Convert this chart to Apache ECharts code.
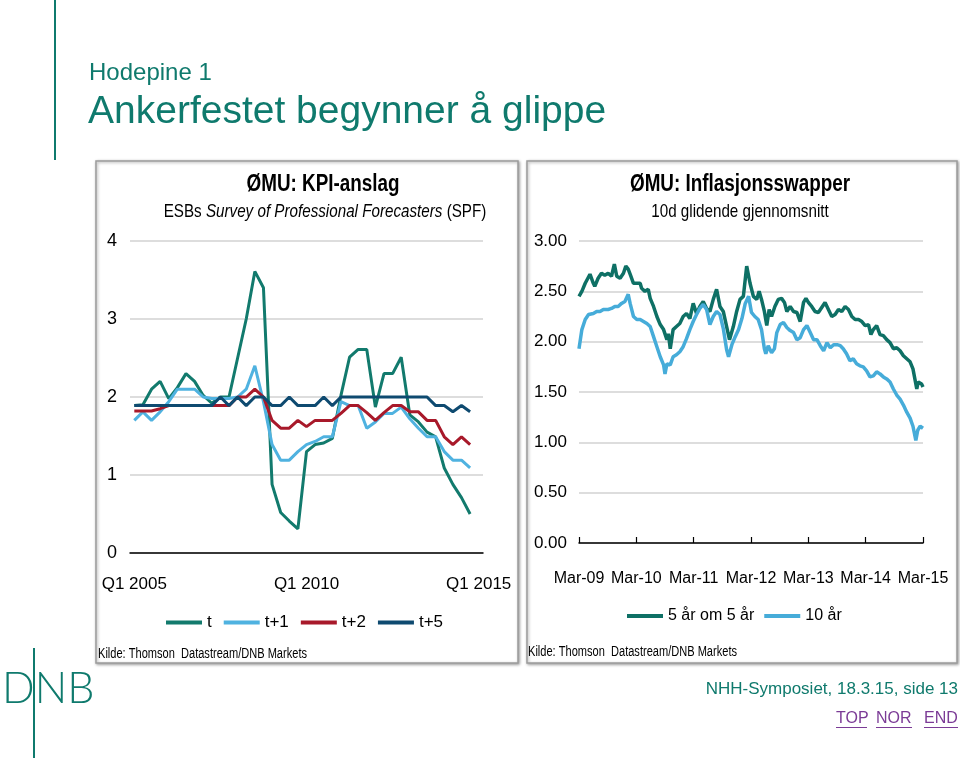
<!DOCTYPE html>
<html>
<head>
<meta charset="utf-8">
<title>Ankerfestet begynner å glippe</title>
<script src="https://cdn.jsdelivr.net/npm/echarts@6/dist/echarts.min.js"></script>
<style>
  html, body { margin: 0; padding: 0; background: #fff; }
  #chart { width: 960px; height: 758px; }
</style>
</head>
<body>
<div id="chart"></div>
<script>
// --- venstre figur: ESB SPF, kvartalsvis 2005-2014 ---
const quarters = [];
for (let y = 2005; y <= 2015; y++) {
  for (let q = 1; q <= 4; q++) {
    if (y === 2015 && q > 1) break;
    quarters.push('Q' + q + ' ' + y);
  }
}
const spfT = [1.89, 1.90, 2.10, 2.20, 1.98, 2.12, 2.30, 2.20, 2.02, 1.92,
  2.00, 2.00, 2.50, 3.00, 3.61, 3.40, 0.88, 0.52, 0.41, 0.31,
  1.30, 1.39, 1.41, 1.47, 2.02, 2.51, 2.61, 2.61, 1.87, 2.30,
  2.30, 2.51, 1.77, 1.68, 1.55, 1.49, 1.09, 0.88, 0.71, 0.50];
const spfT1 = [1.70, 1.81, 1.70, 1.81, 1.94, 2.10, 2.10, 2.10, 2.00, 1.98,
  1.98, 1.98, 2.00, 2.10, 2.40, 1.94, 1.39, 1.19, 1.19, 1.30,
  1.39, 1.43, 1.49, 1.49, 1.94, 1.89, 1.89, 1.60, 1.68, 1.79,
  1.79, 1.87, 1.72, 1.60, 1.49, 1.49, 1.30, 1.19, 1.19, 1.09];
const spfT2 = [1.82, 1.82, 1.82, 1.85, 1.89, 1.89, 1.89, 1.89, 1.89, 1.89,
  1.89, 1.89, 2.00, 2.00, 2.10, 2.00, 1.70, 1.60, 1.60, 1.70,
  1.62, 1.70, 1.70, 1.70, 1.79, 1.89, 1.89, 1.80, 1.70, 1.80,
  1.89, 1.89, 1.81, 1.81, 1.70, 1.70, 1.49, 1.39, 1.49, 1.39];
const spfT5 = [1.89, 1.89, 1.89, 1.89, 1.89, 1.89, 1.89, 1.89, 1.89, 1.89,
  2.00, 1.89, 2.00, 1.89, 2.00, 2.00, 1.89, 1.89, 2.00, 1.89,
  1.89, 1.89, 2.00, 1.89, 2.00, 2.00, 2.00, 2.00, 2.00, 2.00,
  2.00, 2.00, 2.00, 2.00, 2.00, 1.89, 1.89, 1.81, 1.89, 1.81];

// --- høyre figur: inflasjonsswapper, måneder etter mars 2009 ---
const swapTicks = ['Mar-09', 'Mar-10', 'Mar-11', 'Mar-12', 'Mar-13', 'Mar-14', 'Mar-15'];
const months5y5y = [0, 0.6, 1.3, 2.3, 3.0, 3.3, 4.0, 4.7, 5.4, 6.1, 6.8, 7.4, 7.9, 8.6, 9.3,
  9.8, 10.3, 10.7, 11.4, 12.1, 12.8, 13.1, 13.8, 14.5, 14.9, 15.6, 16.3, 17.0, 17.7,
  18.4, 18.7, 19.1, 19.7, 20.4, 21.1, 21.8, 22.5, 23.2, 23.9, 24.6, 25.3, 26.0, 26.7,
  27.4, 28.1, 28.8, 29.5, 30.2, 30.9, 31.5, 32.3, 33.0, 33.7, 34.4, 35.1,
  35.8, 36.5, 37.2, 37.7, 38.2, 38.8, 39.3, 39.8, 40.3, 41.0, 41.7, 42.4, 43.0, 43.5,
  44.2, 44.9, 45.6, 46.3, 47.0, 47.5, 48.0, 48.7, 49.4, 50.1, 50.8, 51.5, 52.2, 52.9,
  53.6, 54.3, 55.0, 55.7, 56.4, 57.1, 57.8, 58.5, 59.2, 59.9, 60.6, 61.1, 61.6, 62.3,
  63.0, 63.7, 64.4, 65.1, 65.8, 66.5, 67.2, 67.9, 68.6, 69.3, 69.9, 70.7, 71.0, 71.7, 72.0];
const swap5y5y = [2.45, 2.50, 2.58, 2.67, 2.58, 2.55, 2.63, 2.68, 2.66, 2.68, 2.65, 2.77, 2.65, 2.63, 2.68,
  2.75, 2.72, 2.67, 2.58, 2.58, 2.58, 2.53, 2.50, 2.52, 2.43, 2.35, 2.25, 2.17, 2.12,
  2.02, 2.08, 1.93, 2.12, 2.15, 2.18, 2.25, 2.28, 2.23, 2.38, 2.28, 2.35, 2.40, 2.33,
  2.30, 2.42, 2.52, 2.35, 2.30, 2.15, 2.02, 2.15, 2.30, 2.42, 2.45, 2.75,
  2.58, 2.45, 2.42, 2.50, 2.42, 2.30, 2.16, 2.32, 2.25, 2.35, 2.42, 2.43, 2.39, 2.30,
  2.35, 2.30, 2.29, 2.20, 2.39, 2.43, 2.39, 2.35, 2.30, 2.29, 2.34, 2.39, 2.32, 2.25,
  2.27, 2.32, 2.30, 2.35, 2.32, 2.25, 2.22, 2.22, 2.20, 2.16, 2.17, 2.07, 2.12, 2.16,
  2.07, 2.06, 2.02, 1.99, 1.93, 1.94, 1.91, 1.86, 1.83, 1.80, 1.73, 1.53, 1.60, 1.58, 1.55];
const months10y = [0, 0.6, 1.3, 2.0, 3.0, 3.7, 4.4, 5.1, 6.1, 6.8, 7.5, 8.2, 8.9, 9.6, 10.3,
  10.7, 11.4, 12.1, 12.8, 13.5, 14.2, 14.9, 15.6, 16.3, 17.0, 17.7, 18.0, 18.4, 19.1,
  19.7, 20.4, 21.1, 21.8, 22.5, 23.2, 23.9, 24.6, 25.3, 26.0, 26.7, 27.4, 28.1, 28.8,
  29.5, 30.2, 30.9, 31.3, 32.0, 32.7, 33.4, 34.1, 34.8, 35.5,
  36.1, 36.8, 37.5, 38.2, 38.8, 39.1, 39.6, 40.3, 40.9, 41.4, 42.1, 42.8, 43.5, 44.2,
  44.9, 45.6, 46.3, 47.0, 47.7, 48.4, 49.1, 49.8, 50.5, 51.2, 51.9, 52.6, 53.3, 54.0,
  54.7, 55.3, 56.0, 56.7, 57.4, 58.1, 58.8, 59.5, 60.2, 60.9, 61.6, 62.3, 63.0, 63.7,
  64.4, 65.1, 65.8, 66.5, 67.2, 67.9, 68.6, 69.3, 69.9, 70.5, 70.9, 71.4, 72.0];
const swap10y = [1.93, 2.12, 2.22, 2.27, 2.28, 2.30, 2.30, 2.32, 2.32, 2.33, 2.35, 2.35, 2.38, 2.40, 2.47,
  2.38, 2.25, 2.22, 2.22, 2.20, 2.18, 2.15, 2.05, 1.95, 1.85, 1.77, 1.68, 1.78, 1.77,
  1.85, 1.87, 1.90, 1.95, 2.03, 2.12, 2.20, 2.27, 2.33, 2.37, 2.32, 2.17, 2.25, 2.30,
  2.27, 2.13, 1.92, 1.85, 1.97, 2.05, 2.12, 2.23, 2.38, 2.45,
  2.29, 2.25, 2.22, 2.12, 1.93, 1.88, 1.96, 1.89, 1.93, 2.09, 2.17, 2.19, 2.14, 2.11,
  2.09, 2.02, 2.04, 2.12, 2.16, 2.09, 2.02, 2.02, 1.96, 1.91, 1.99, 1.94, 1.97, 1.97,
  1.96, 1.93, 1.88, 1.81, 1.83, 1.78, 1.76, 1.75, 1.71, 1.65, 1.66, 1.70, 1.68, 1.65,
  1.63, 1.60, 1.53, 1.47, 1.43, 1.37, 1.30, 1.24, 1.16, 1.02, 1.12, 1.16, 1.14];

const TEAL = '#0f7a6d';
const LINK = '#7b3b96';
const SANS = "'Liberation Sans', Arial, sans-serif";

const pairs = (xs, ys) => xs.map((x, i) => [x, ys[i]]);

// smal tekst (Arial Narrow-aktig) lages ved å klemme Liberation Sans horisontalt
const narrowText = (x, y, text, font, sx, align) => ({
  type: 'text', x: x, y: y, scaleX: sx,
  style: { text: text, font: font, fill: '#000', align: align || 'left', verticalAlign: 'middle' }
});

const chart = echarts.init(document.getElementById('chart'), null, { renderer: 'canvas' });

chart.setOption({
  animation: false,
  backgroundColor: '#fff',
  graphic: [
    // slide-dekor
    { type: 'line', shape: { x1: 55, y1: 0, x2: 55, y2: 160 }, style: { stroke: TEAL, lineWidth: 2 } },
    { type: 'line', shape: { x1: 34, y1: 648, x2: 34, y2: 758 }, style: { stroke: TEAL, lineWidth: 2 } },
    { type: 'text', x: 2, y: 689, style: { text: 'DNB', font: '300 43px Lato, ' + SANS, fill: TEAL, verticalAlign: 'middle' } },
    { type: 'text', x: 89, y: 73, style: { text: 'Hodepine 1', font: '24px ' + SANS, fill: TEAL, verticalAlign: 'middle' } },
    { type: 'text', x: 88, y: 112, style: { text: 'Ankerfestet begynner å glippe', font: '39px ' + SANS, fill: TEAL, verticalAlign: 'middle' } },
    // rammer rundt figurene
    { type: 'rect', z: -10, shape: { x: 96, y: 161, width: 422, height: 502 },
      style: { fill: '#fff', stroke: '#9c9c9c', lineWidth: 1.5, shadowBlur: 3, shadowOffsetX: 1, shadowOffsetY: 1, shadowColor: 'rgba(0,0,0,0.35)' } },
    { type: 'rect', z: -10, shape: { x: 527, y: 161, width: 430, height: 502 },
      style: { fill: '#fff', stroke: '#9c9c9c', lineWidth: 1.5, shadowBlur: 3, shadowOffsetX: 1, shadowOffsetY: 1, shadowColor: 'rgba(0,0,0,0.35)' } },
    // titler
    narrowText(323, 185, 'ØMU: KPI-anslag', 'bold 23px ' + SANS, 0.82, 'center'),
    { type: 'text', x: 325, y: 212, scaleX: 0.8, style: {
        text: '{r|ESBs }{i|Survey of Professional Forecasters}{r| (SPF)}',
        align: 'center', verticalAlign: 'middle',
        rich: {
          r: { font: '19px ' + SANS, fill: '#000' },
          i: { font: 'italic 19px ' + SANS, fill: '#000' }
        } } },
    narrowText(740, 185, 'ØMU: Inflasjonsswapper', 'bold 23px ' + SANS, 0.82, 'center'),
    narrowText(740, 212, '10d glidende gjennomsnitt', '19px ' + SANS, 0.8, 'center'),
    narrowText(98, 654, 'Kilde: Thomson  Datastream/DNB Markets', '14px ' + SANS, 0.79),
    narrowText(528, 652, 'Kilde: Thomson  Datastream/DNB Markets', '14px ' + SANS, 0.79),
    // bunntekst
    { type: 'text', x: 958, y: 689, style: { text: 'NHH-Symposiet, 18.3.15, side 13', font: '17px ' + SANS, fill: TEAL, align: 'right', verticalAlign: 'middle' } },
    { type: 'text', x: 836, y: 719, style: { text: 'TOP', font: '16px ' + SANS, fill: LINK, verticalAlign: 'middle' } },
    { type: 'text', x: 876, y: 719, style: { text: 'NOR', font: '16px ' + SANS, fill: LINK, verticalAlign: 'middle' } },
    { type: 'text', x: 924, y: 719, style: { text: 'END', font: '16px ' + SANS, fill: LINK, verticalAlign: 'middle' } },
    { type: 'line', shape: { x1: 836, y1: 727.5, x2: 867, y2: 727.5 }, style: { stroke: LINK, lineWidth: 1 } },
    { type: 'line', shape: { x1: 876, y1: 727.5, x2: 912, y2: 727.5 }, style: { stroke: LINK, lineWidth: 1 } },
    { type: 'line', shape: { x1: 924, y1: 727.5, x2: 958, y2: 727.5 }, style: { stroke: LINK, lineWidth: 1 } }
  ],
  legend: [
    {
      left: 166, top: 614, padding: 0, icon: 'rect', itemWidth: 36, itemHeight: 4, itemGap: 12,
      data: ['t', 't+1', 't+2', 't+5'],
      textStyle: { fontSize: 17, fontFamily: SANS, color: '#000' }
    },
    {
      left: 627, top: 608, padding: 0, icon: 'rect', itemWidth: 36, itemHeight: 4, itemGap: 10,
      data: ['5 år om 5 år', '10 år'],
      textStyle: { fontSize: 16, fontFamily: SANS, color: '#000' }
    }
  ],
  grid: [
    { left: 130, top: 241, width: 353, height: 312 },
    { left: 579, top: 241, width: 344, height: 302 }
  ],
  xAxis: [
    {
      gridIndex: 0, type: 'category', data: quarters, boundaryGap: true,
      axisLine: { lineStyle: { color: '#000', width: 1.5 } },
      axisTick: { inside: true, length: 5, interval: 1, lineStyle: { color: '#000', width: 1.2 } },
      axisLabel: {
        interval: (i) => i % 20 === 0, margin: 23, fontSize: 17, fontFamily: SANS, color: '#000'
      },
      splitLine: { show: false }
    },
    {
      gridIndex: 1, type: 'value', min: 0, max: 72, interval: 12,
      axisLine: { lineStyle: { color: '#000', width: 1.5 } },
      axisTick: { inside: true, length: 6, lineStyle: { color: '#000', width: 1.2 } },
      axisLabel: {
        margin: 28, fontSize: 16, fontFamily: SANS, color: '#000',
        formatter: (v) => swapTicks[Math.round(v / 12)]
      },
      splitLine: { show: false }
    }
  ],
  yAxis: [
    {
      gridIndex: 0, type: 'value', min: 0, max: 4, interval: 1,
      axisLine: { show: false }, axisTick: { show: false },
      axisLabel: { margin: 13, fontSize: 18, fontFamily: SANS, color: '#000' },
      splitLine: { lineStyle: { color: '#d2d2d2', width: 1.5 } }
    },
    {
      gridIndex: 1, type: 'value', min: 0, max: 3, interval: 0.5,
      axisLine: { show: false }, axisTick: { show: false },
      axisLabel: { margin: 12, fontSize: 17, fontFamily: SANS, color: '#000', formatter: (v) => v.toFixed(2) },
      splitLine: { lineStyle: { color: '#d2d2d2', width: 1.5 } }
    }
  ],
  series: [
    { name: 't', type: 'line', xAxisIndex: 0, yAxisIndex: 0, data: spfT, showSymbol: false,
      color: '#127a6d', lineStyle: { width: 3 } },
    { name: 't+1', type: 'line', xAxisIndex: 0, yAxisIndex: 0, data: spfT1, showSymbol: false,
      color: '#4fb2e0', lineStyle: { width: 3 } },
    { name: 't+2', type: 'line', xAxisIndex: 0, yAxisIndex: 0, data: spfT2, showSymbol: false,
      color: '#a8192a', lineStyle: { width: 3 } },
    { name: 't+5', type: 'line', xAxisIndex: 0, yAxisIndex: 0, data: spfT5, showSymbol: false,
      color: '#0e4a70', lineStyle: { width: 3 } },
    { name: '5 år om 5 år', type: 'line', xAxisIndex: 1, yAxisIndex: 1, data: pairs(months5y5y, swap5y5y),
      showSymbol: false, color: '#0e7065', lineStyle: { width: 3.5 } },
    { name: '10 år', type: 'line', xAxisIndex: 1, yAxisIndex: 1, data: pairs(months10y, swap10y),
      showSymbol: false, color: '#46acd9', lineStyle: { width: 3.5 } }
  ]
});
</script>
</body>
</html>
